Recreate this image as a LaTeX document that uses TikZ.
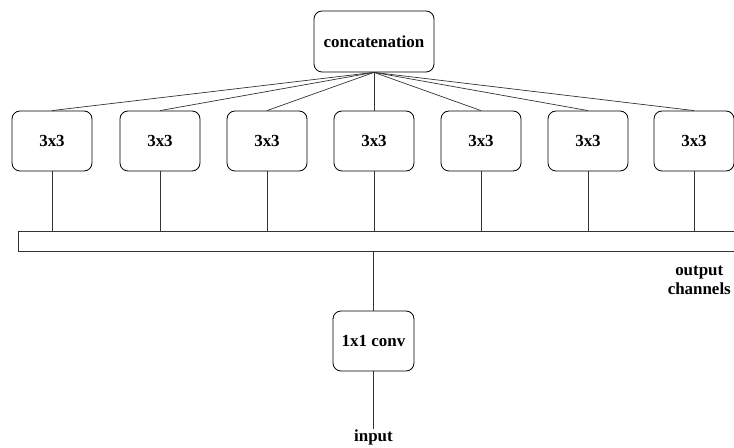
\documentclass[tikz,border=0pt]{standalone}
\usepackage{fontspec}
\setmainfont{Liberation Serif}
\begin{document}
\begin{tikzpicture}[x=1bp,y=-1bp,
  box/.style={draw, rounded corners=8bp, line width=0.8bp, font=\bfseries\fontsize{17}{19}\selectfont, inner sep=0pt},
  lbl/.style={font=\bfseries\fontsize{17}{19}\selectfont, align=center, inner sep=0pt},
  conn/.style={line width=0.7bp, draw=black!80}]
\useasboundingbox (0,0) rectangle (734,448);
\node[box, minimum width=120bp, minimum height=61bp] (cat) at (374,41.5) {concatenation};
\foreach \i/\x in {1/52,2/160,3/267,4/374,5/481,6/588,7/694}{
  \node[box, minimum width=80bp, minimum height=60bp] (b\i) at (\x,141) {3x3};
}
\coordinate (barL) at (18,231);
\coordinate (barR) at (734,251);
\draw[conn] (734,231) -- (18,231) -- (18,251) -- (734,251);
\foreach \i in {1,...,7}{
  \draw[conn] (cat.south) -- (b\i.north);
  \draw[conn] (b\i.south) -- (b\i.south |- barL);
}
\node[box, minimum width=81bp, minimum height=60bp] (conv) at (373.5,341) {1x1 conv};
\draw[conn] (conv.north) -- (conv.north |- barR);
\node[lbl] (inp) at (373.5,437) {input};
\draw[conn] (conv.south) -- (inp.north);
\node[lbl, anchor=east, align=center] (out) at (731,280) {output\\channels};
\end{tikzpicture}
\end{document}
